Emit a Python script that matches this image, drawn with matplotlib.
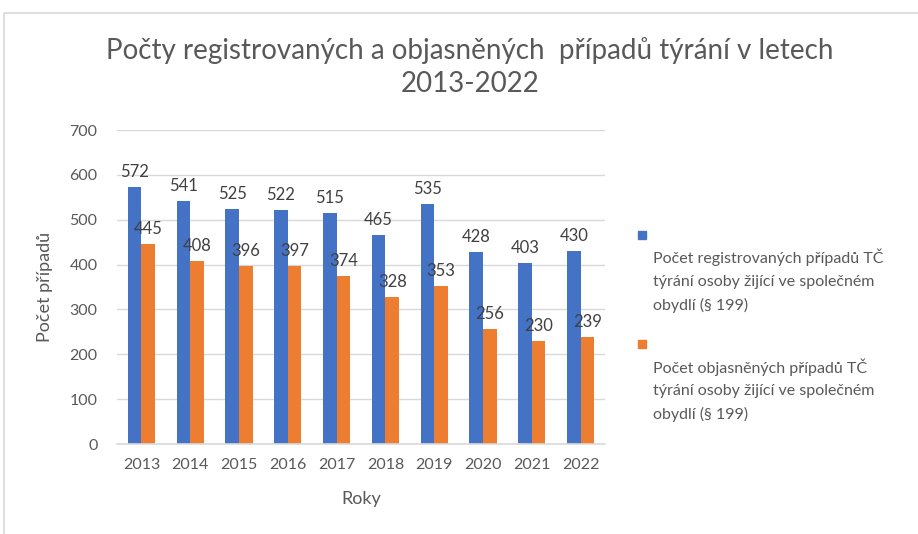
import matplotlib
matplotlib.use("Agg")
import matplotlib.pyplot as plt
import numpy as np
from matplotlib.patches import Rectangle

years = ["2013", "2014", "2015", "2016", "2017", "2018", "2019", "2020", "2021", "2022"]
registered = [572, 541, 525, 522, 515, 465, 535, 428, 403, 430]
solved = [445, 408, 396, 397, 374, 328, 353, 256, 230, 239]
series_names = [
    "Počet registrovaných případů TČ\ntýrání osoby žijící ve společném\nobydlí (§ 199)",
    "Počet objasněných případů TČ\ntýrání osoby žijící ve společném\nobydlí (§ 199)",
]
title = "Počty registrovaných a objasněných  případů týrání v letech\n2013-2022"

BLUE = "#4472C4"
ORANGE = "#ED7D31"
TXT = "#595959"
W, H = 918, 534

plt.rcParams['font.family'] = ['Lato', 'DejaVu Sans']
fig = plt.figure(figsize=(W / 100, H / 100), dpi=100)
fig.patch.set_facecolor("white")

# outer chart frame
fig.patches.append(Rectangle((4 / W, -0.1), 2, (H - 13) / H + 0.1, transform=fig.transFigure,
                             fill=False, edgecolor="#D9D9D9", linewidth=1.2))

ax = fig.add_axes([117 / W, (H - 444) / H, (605 - 117) / W, (444 - 130) / H])
x = np.arange(len(years))
bw = 0.28
b1 = ax.bar(x - bw / 2, registered, bw, color=BLUE)
b2 = ax.bar(x + bw / 2, solved, bw, color=ORANGE)
for bars, vals in ((b1, registered), (b2, solved)):
    for r, v in zip(bars, vals):
        ax.annotate(str(v), (r.get_x() + r.get_width() / 2, v), xytext=(0, 5),
                    textcoords="offset points", ha="center", va="bottom",
                    fontsize=12, color="#404040")

ax.set_xlim(-0.5, len(years) - 0.5)
ax.set_ylim(0, 700)
ax.set_yticks(range(0, 701, 100))
ax.set_xticks(x)
ax.set_xticklabels(years)
ax.grid(axis="y", color="#D9D9D9", linewidth=1)
ax.set_axisbelow(True)
for s in ["top", "right", "left"]:
    ax.spines[s].set_visible(False)
ax.spines["bottom"].set_color("#D9D9D9")
ax.spines["bottom"].set_linewidth(1.2)
ax.tick_params(axis="both", length=0, labelsize=11.5, colors=TXT, pad=10)
ax.tick_params(axis="y", pad=14)
ax.set_xlabel("Roky", fontsize=13, color=TXT, labelpad=14)
ax.set_ylabel("Počet případů", fontsize=13, color=TXT, labelpad=12)

fig.text(470 / W, 1 - 67 / H, title, ha="center", va="center", fontsize=20,
         color=TXT, linespacing=1.3)

# legend
for i, (c, name) in enumerate(zip([BLUE, ORANGE], series_names)):
    my = [235, 344][i]
    fig.patches.append(Rectangle((638 / W, 1 - (my + 4) / H), 8 / W, 8 / H,
                                 transform=fig.transFigure, color=c))
    fig.text(653 / W, 1 - (my + 14) / H, name, ha="left", va="top", fontsize=11.5,
             color=TXT, linespacing=1.75)

fig.savefig("out.png", dpi=100)
